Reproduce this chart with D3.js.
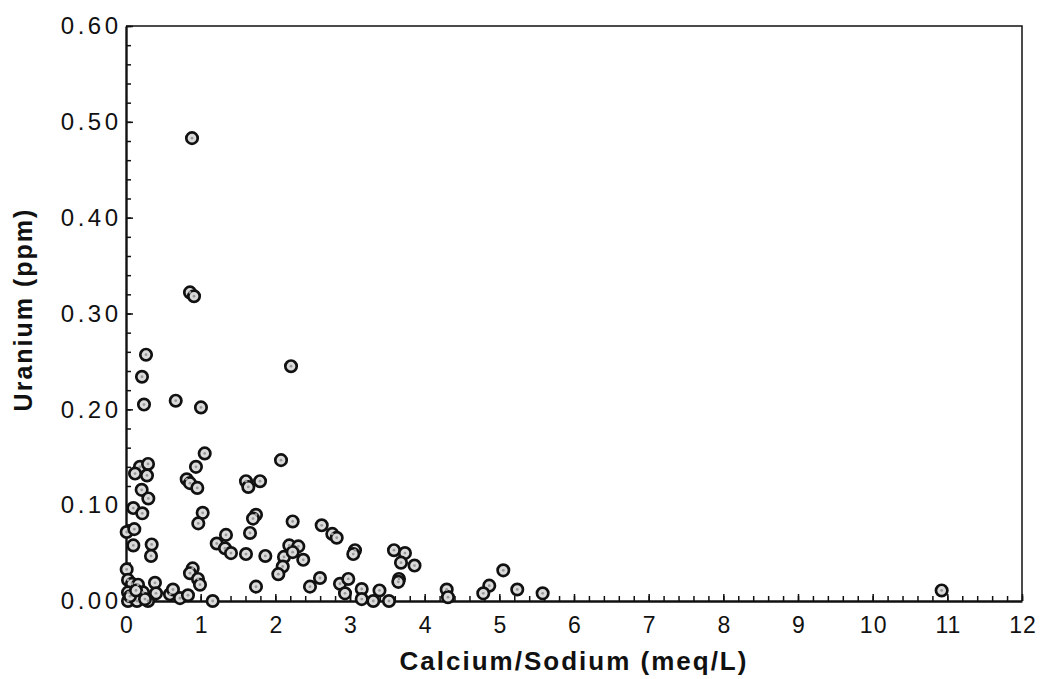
<!DOCTYPE html>
<html>
<head>
<meta charset="utf-8">
<script src="https://cdn.jsdelivr.net/npm/d3@7"></script>
<style>
  html, body { margin: 0; padding: 0; background: #fff; }
  svg { display: block; }
  .tick text { font-family: "Liberation Sans", Arial, sans-serif; fill: #111; }
</style>
</head>
<body>
<svg id="chart" width="1045" height="679"></svg>
<script>
// ---- data ----
const calciumSodium = [
  0.884, 0.857, 0.911, 0.268, 0.214, 0.241, 0.666, 1.004, 2.210, 1.054,
  2.076, 0.937, 0.187, 0.295, 0.281, 0.121, 0.813, 0.857, 0.955, 0.210,
  0.299, 0.098, 0.218, 1.027, 0.968, 0.009, 0.111, 0.098, 0.344, 0.335,
  1.607, 1.638, 1.795, 1.741, 1.701, 1.661, 2.232, 2.621, 2.763, 2.822,
  1.339, 1.215, 1.326, 1.406, 1.607, 1.866, 2.187, 2.308, 2.116, 2.232,
  2.374, 2.099, 2.040, 2.598, 2.464, 1.741, 3.067, 3.044, 3.589, 3.736,
  3.683, 3.864, 3.656, 3.647, 2.866, 2.977, 2.933, 3.157, 3.395, 3.157,
  3.312, 3.522, 4.295, 4.312, 5.053, 4.865, 4.785, 5.240, 5.580, 10.924,
  0.893, 0.857, 0.964, 0.991, 1.161, 0.009, 0.027, 0.080, 0.161, 0.228,
  0.027, 0.388, 0.402, 0.027, 0.147, 0.295, 0.054, 0.589, 0.629, 0.723,
  0.830, 0.134, 0.254
];
const uranium = [
  0.483, 0.322, 0.318, 0.257, 0.234, 0.205, 0.209, 0.202, 0.245, 0.154,
  0.147, 0.140, 0.140, 0.143, 0.131, 0.133, 0.127, 0.123, 0.118, 0.116,
  0.107, 0.097, 0.0915, 0.092, 0.081, 0.072, 0.075, 0.058, 0.059, 0.047,
  0.125, 0.119, 0.125, 0.090, 0.086, 0.071, 0.083, 0.079, 0.070, 0.066,
  0.069, 0.060, 0.055, 0.050, 0.049, 0.047, 0.058, 0.057, 0.046, 0.051,
  0.043, 0.036, 0.028, 0.024, 0.015, 0.015, 0.053, 0.049, 0.053, 0.050,
  0.040, 0.037, 0.023, 0.020, 0.018, 0.023, 0.008, 0.0125, 0.011, 0.002,
  0.000, 0.000, 0.012, 0.004, 0.032, 0.016, 0.008, 0.012, 0.008, 0.011,
  0.034, 0.029, 0.023, 0.017, 0.000, 0.033, 0.022, 0.018, 0.017, 0.009,
  0.009, 0.019, 0.008, 0.000, 0.000, 0.000, 0.005, 0.007, 0.012, 0.003,
  0.006, 0.011, 0.002
];
const xTickValues = [0, 1, 2, 3, 4, 5, 6, 7, 8, 9, 10, 11, 12];
const yTickValues = [0.00, 0.10, 0.20, 0.30, 0.40, 0.50, 0.60];
const xLabel = "Calcium/Sodium (meq/L)";
const yLabel = "Uranium (ppm)";

// ---- layout ----
const svg = d3.select("#chart");
const mLeft = 126, mRight = 1022, mTop = 26, mBottom = 601;

const x = d3.scaleLinear().domain([0, 12]).range([mLeft, mRight]);
const y = d3.scaleLinear().domain([0, 0.6]).range([mBottom, mTop]);

// frame (top and right)
svg.append("path")
  .attr("d", `M${mLeft},${mTop}H${mRight}V${mBottom}`)
  .attr("fill", "none").attr("stroke", "#111").attr("stroke-width", 1.5);

// minor ticks
const xMinor = d3.range(0, 12.0001, 0.2).map(v => +v.toFixed(2));
const yMinor = d3.range(0, 0.6001, 0.02).map(v => +v.toFixed(3));

svg.append("g").attr("transform", `translate(0,${mBottom})`)
  .call(d3.axisBottom(x).tickValues(xMinor).tickSize(-5).tickFormat(""))
  .call(g => g.select(".domain").remove())
  .selectAll("line").attr("stroke", "#111").attr("stroke-width", 1.5);

svg.append("g").attr("transform", `translate(${mLeft},0)`)
  .call(d3.axisLeft(y).tickValues(yMinor).tickSize(-5).tickFormat(""))
  .call(g => g.select(".domain").remove())
  .selectAll("line").attr("stroke", "#111").attr("stroke-width", 1.5);

// major axes
const xAxis = svg.append("g").attr("transform", `translate(0,${mBottom})`)
  .call(d3.axisBottom(x).tickValues(xTickValues).tickSize(-7).tickSizeOuter(0).tickPadding(16).tickFormat(d3.format("d")));
xAxis.select(".domain").attr("stroke", "#111").attr("stroke-width", 2.4);
xAxis.selectAll("line").attr("stroke", "#111").attr("stroke-width", 1.5);
xAxis.selectAll("text").attr("font-size", 23).attr("letter-spacing", "1px").attr("dx", "0.5px");

const yAxis = svg.append("g").attr("transform", `translate(${mLeft},0)`)
  .call(d3.axisLeft(y).tickValues(yTickValues).tickSize(-7).tickSizeOuter(0).tickPadding(8).tickFormat(d3.format(".2f")));
yAxis.select(".domain").attr("stroke", "#111").attr("stroke-width", 2.4);
yAxis.selectAll("line").attr("stroke", "#111").attr("stroke-width", 1.5);
yAxis.selectAll("text").attr("font-size", 24).attr("letter-spacing", "3.5px").attr("dx", "3.5px");

// axis titles
svg.append("text")
  .attr("x", (mLeft + mRight) / 2).attr("y", 670)
  .attr("text-anchor", "middle")
  .attr("font-family", "Liberation Sans, Arial, sans-serif")
  .attr("font-weight", "bold").attr("font-size", 26).attr("letter-spacing", "2px")
  .attr("fill", "#111")
  .text(xLabel);

svg.append("text")
  .attr("transform", `translate(32,${(mTop + mBottom) / 2 - 4}) rotate(-90)`)
  .attr("text-anchor", "middle")
  .attr("font-family", "Liberation Sans, Arial, sans-serif")
  .attr("font-weight", "bold").attr("font-size", 25).attr("letter-spacing", "2px")
  .attr("fill", "#111")
  .text(yLabel);

// points
const pts = calciumSodium.map((v, i) => ({ cx: v, u: uranium[i] }));
const g = svg.append("g");
g.selectAll("circle.pt").data(pts).join("circle")
  .attr("class", "pt")
  .attr("cx", d => x(d.cx)).attr("cy", d => y(d.u))
  .attr("r", 5.7)
  .attr("fill", "#dadada").attr("stroke", "#111").attr("stroke-width", 2.7);
g.selectAll("circle.dot").data(pts).join("circle")
  .attr("class", "dot")
  .attr("cx", d => x(d.cx)).attr("cy", d => y(d.u))
  .attr("r", 1.4).attr("fill", "#999");
</script>
</body>
</html>
